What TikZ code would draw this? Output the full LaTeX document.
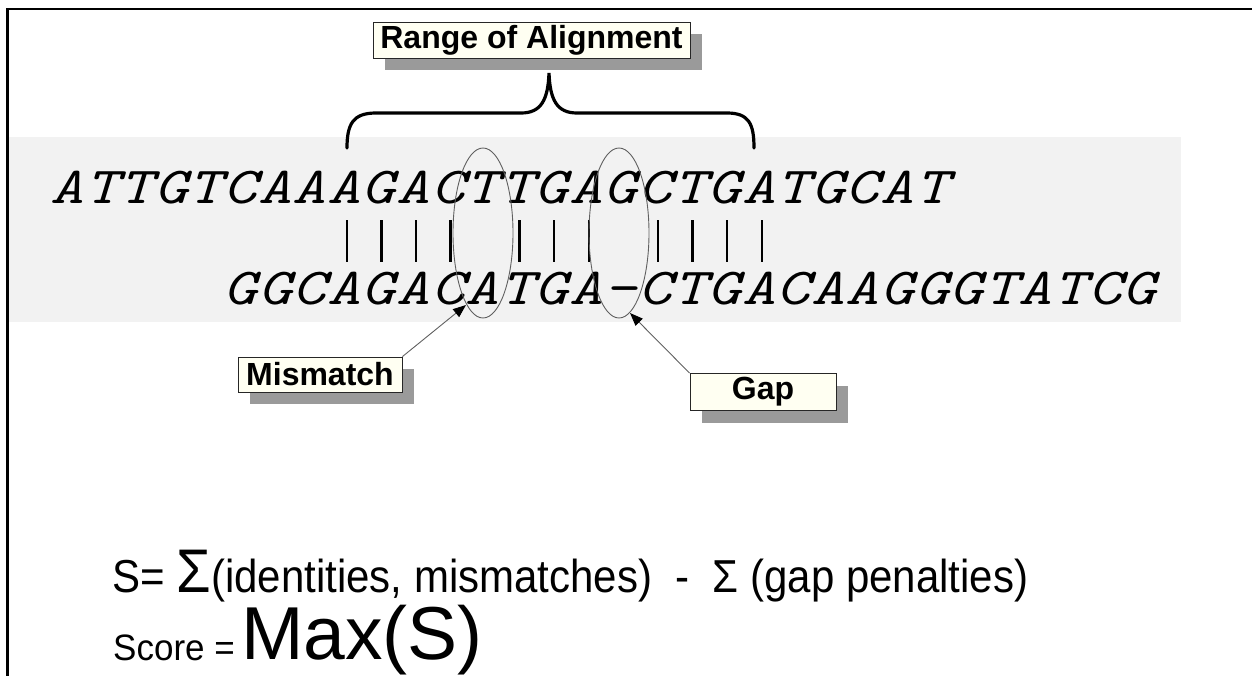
\documentclass[tikz,border=0pt]{standalone}
\usepackage{fontspec}
\setmainfont{Liberation Sans}
\usetikzlibrary{arrows.meta,shadows,shapes.geometric}
\definecolor{band}{HTML}{F2F2F2}
\definecolor{boxfill}{HTML}{FFFFF2}
\definecolor{shadowgray}{HTML}{9A9A9A}
\definecolor{thinline}{HTML}{606060}
\newcommand{\seqglyph}[1]{\scalebox{1.22}[1]{#1}}
\begin{document}
\begin{tikzpicture}[x=1pt,y=-1pt,
  labelbox/.style={draw=black!85, line width=0.8pt, fill=boxfill,
    font=\fontsize{32}{32}\selectfont\bfseries, inner sep=0pt,
    drop shadow={shadow xshift=12pt, shadow yshift=-12pt, fill=shadowgray, opacity=1}},
  seqchar/.style={font=\fontsize{52}{52}\selectfont\ttfamily\itshape, inner sep=0pt, anchor=base},
  matchbar/.style={line width=2.4pt},
  ring/.style={draw=thinline, line width=0.9pt, ellipse, inner sep=0pt, minimum width=60pt, minimum height=170pt},
  pointer/.style={draw=thinline, line width=0.9pt, -{Triangle[length=13pt,width=10pt,fill=black,color=black]}},
  brace/.style={line width=3.2pt, line cap=round},
  formula/.style={inner sep=0pt, anchor=base west}
]
\useasboundingbox (0,0) rectangle (1252,675);
% band
\fill[band] (8,137) rectangle (1181,322);
% frame
\draw[line width=2.5pt] (7.7,676) -- (7.7,9.2) -- (1253,9.2);

% sequences
\foreach \c [count=\n from 0] in {A,T,T,G,T,C,A,A,A,G,A,C,T,T,G,A,G,C,T,G,A,T,G,C,A,T}
  \node[seqchar] (t\n) at ({50+(\n+0.5)*34.58},203) {\seqglyph{\c}};
\foreach \c [count=\n from 0] in {G,G,C,A,G,A,C,A,T,G,A,-,C,T,G,A,C,A,A,G,G,G,T,A,T,C,G}
  \node[seqchar] (b\n) at ({222.9+(\n+0.5)*34.58},304) {\seqglyph{\c}};
\foreach \i in {8,9,10,11,13,14,15,17,18,19,20}
  \draw[matchbar] ({52.8+(\i+0.5)*34.58},220) -- ++(0,42);

% ellipses
\node[ring] (mmring) at (483,233) {};
\node[ring] (gapring) at (619,233) {};

% brace
\draw[brace] (347,148) .. controls (347,124) and (353,113) .. (376,113)
  -- (521,113) .. controls (541,113) and (548,100) .. (549,73)
  .. controls (550,100) and (557,113) .. (577,113)
  -- (727,113) .. controls (749,113) and (754,124) .. (754,148);

% label boxes
\node[labelbox, minimum width=317pt, minimum height=36pt] (range) at (531.5,40) {Range of Alignment};
\node[labelbox, minimum width=164pt, minimum height=35pt] (mm) at (320,374.5) {Mismatch};
\node[labelbox, minimum width=146pt, minimum height=37pt] (gap) at (763,392) {Gap};

% pointers
\coordinate (mmtip) at (466,305);
\coordinate (gaptip) at (630,313);
\draw[pointer] (mm.north east) -- (mmtip);
\draw[pointer] (gap.north west) -- (gaptip);

% formulas
\node[formula, font=\fontsize{42}{42}\selectfont] (eq) at (112,592)
  {\scalebox{1}[1.1]{S= {\fontsize{56}{56}\selectfont Σ}(identities, mismatches)\ \ -\ \ Σ (gap penalties)}};
\node[formula, font=\fontsize{35}{35}\selectfont] (score) at (113,660) {\scalebox{1}[1.05]{Score =}};
\node[formula, font=\fontsize{75}{75}\selectfont] (max) at (241,659) {Max(S)};
\end{tikzpicture}
\end{document}
